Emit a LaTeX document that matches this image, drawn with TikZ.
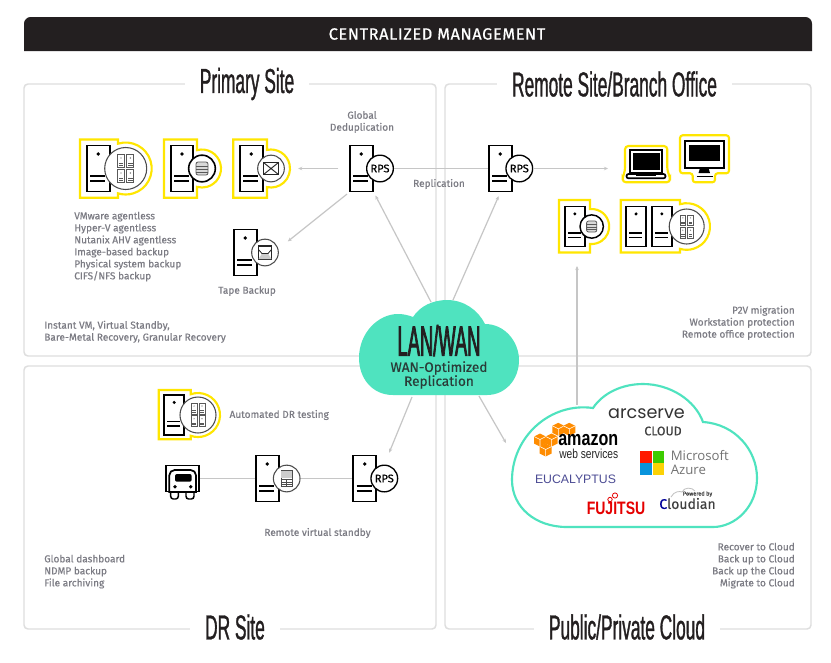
\documentclass[tikz,border=0pt]{standalone}
\usepackage{fontspec}
\setmainfont{Fira Sans}[FakeBold=0.45]
\newfontfamily\headfont{Fira Sans}[LetterSpace=4,FakeBold=0.7]
\newfontfamily\titlefont{Liberation Sans}[FakeStretch=0.5,FakeBold=0.9]
\newfontfamily\lanfont{Liberation Sans}[FakeStretch=0.43,FakeBold=1.6]
\newfontfamily\poppfont{Poppins}
\newfontfamily\azurefont{Open Sans}
\newfontfamily\logofont{Liberation Sans}
\newfontfamily\logocond{Liberation Sans}[FakeStretch=0.78]
\usetikzlibrary{positioning,arrows.meta}
\definecolor{headblack}{HTML}{231F20}
\definecolor{panelgray}{HTML}{DEDEDE}
\definecolor{connGray}{HTML}{C6C6C6}
\definecolor{textgray}{HTML}{7C7C84}
\definecolor{lanteal}{HTML}{4FE3BF}
\definecolor{frameyellow}{HTML}{FFE600}
\newcommand{\yframe}[7]{%
  \pgfmathsetmacro{\ya}{acos((#4-#5)/#7)}
  \draw[yline] (#1,#2) -- (#4,#2) -- (#4,{#6-#7*sin(\ya)})
    arc[start angle=-\ya, end angle=\ya, radius=#7] -- (#4,#3) -- (#1,#3) -- cycle;}
\begin{document}
\begin{tikzpicture}[
  x=0.75pt, y=-0.75pt,
  panel/.style = {draw=panelgray, line width=1.1pt, rounded corners=3pt},
  sitetitle/.style = {fill=white, inner sep=0pt, minimum height=24pt, inner xsep=11pt,
                      font=\titlefont\fontsize{26}{26}\selectfont, text=headblack},
  srv/.style = {draw=black, fill=white, line width=1.4pt, minimum width=17pt,
                minimum height=34.5pt, inner sep=0pt},
  srvsmall/.style = {srv, minimum width=15pt, minimum height=30pt},
  badge/.style = {circle, draw=black, fill=white, line width=1pt, inner sep=0pt,
                  minimum size=20pt, font=\fontsize{8.3}{8.3}\selectfont, text=black},
  yline/.style = {draw=frameyellow, line width=1.6pt, fill=white},
  conn/.style = {draw=connGray, line width=0.9pt},
  arr/.style = {conn, -{Stealth[length=3pt,width=2.6pt]}},
  lbl/.style = {font=\fontsize{7.55}{9}\selectfont, text=textgray, inner sep=0pt},
  lblblock/.style = {lbl, align=left, anchor=north west},
  lblright/.style = {lbl, align=right, anchor=north east},
  srvmarks/.pic = {
    \fill (0,-14.5) circle (1.9);
    \draw[line width=1.2pt] (-8,7.5) -- (7,7.5) (-8,12.5) -- (7,12.5);
  },
  vmgrid/.pic = {
    \foreach \gx/\gy in {-4.7/-7.5, 4.7/-7.5, -4.7/7.5, 4.7/7.5} {
      \draw[black!65, line width=0.7pt] (\gx-3.5,\gy-6.5) rectangle (\gx+3.5,\gy+6.5);
      \fill[black!65] (\gx,\gy-3) circle (0.7);
      \draw[black!65, line width=0.6pt] (\gx-2.2,\gy+2) -- (\gx+2.2,\gy+2) (\gx-2.2,\gy+4) -- (\gx+2.2,\gy+4);
    }
  },
  dbicon/.pic = {
    \draw[black!65, fill=black!15, line width=0.6pt, rounded corners=1.5pt] (-6,-6.5) rectangle (6,6.5);
    \draw[black!65, line width=0.6pt] (-6,-2.5) -- (6,-2.5) (-6,0.5) -- (6,0.5) (-6,3.5) -- (6,3.5);
  },
  mailicon/.pic = {
    \draw[black!85, line width=0.8pt] (-7.5,-6) rectangle (7.5,6);
    \draw[black!85, line width=0.7pt] (-7.5,-6) -- (7.5,6) (-7.5,6) -- (7.5,-6);
  },
  tapeicon/.pic = {
    \draw[black!85, line width=0.9pt] (-6.5,-6.5) rectangle (6.5,6.5);
    \fill[black!20] (-3,1) -- (3,1) -- (6.5,6.5) -- (-6.5,6.5) -- cycle;
    \draw[black!85, line width=0.6pt] (-6.5,-3) -- (-3,1) -- (3,1) -- (6.5,-3);
  },
  sqlicon/.pic = {
    \draw[black!70, line width=0.7pt] (-5.5,-8) rectangle (5.5,8);
    \fill[black!20] (-5.5,-8) rectangle (5.5,-1);
    \draw[black!70, line width=0.6pt] (-5.5,1) -- (5.5,1) (-5.5,3.5) -- (5.5,3.5) (-5.5,6) -- (5.5,6);
    \draw[black!70, line width=0.6pt] (0,1) -- (0,8);
  },
  awscube/.pic = {
    \fill[orange!90!yellow] (-6,-3.5) -- (0,-6.5) -- (6,-3.5) -- (6,3.5) -- (0,6.5) -- (-6,3.5) -- cycle;
    \draw[white, line width=0.4pt] (-6,-3.5) -- (0,-0.5) -- (6,-3.5) (0,-0.5) -- (0,6.5);
  }
]
  \useasboundingbox (0,0) rectangle (831,662);
  \fill[white] (0,0) rectangle (831,662);

  \draw[panel] (24,84) rectangle (436,356);
  \draw[panel] (445,84) rectangle (811,356);
  \draw[panel] (24,366) rectangle (436,629);
  \draw[panel] (445,366) rectangle (811,629);

  \node[sitetitle] (primary) at (247,84) {Primary Site};
  \node[sitetitle] (remote)  at (614.5,84) {Remote Site/Branch Office};
  \node[sitetitle] (drsite)  at (235,627) {DR Site};
  \node[sitetitle] (public)  at (627,627) {Public/Private Cloud};

  \fill[headblack] (24,51) {[rounded corners=5pt] -- (24,17) -- (812,17)} -- (812,51) -- cycle;
  \node[text=white, font=\headfont\fontsize{12.2}{12.2}\selectfont] (central) at (437,34) {CENTRALIZED MANAGEMENT};

  \fill[lanteal] (393,395) .. controls (372,395) and (359,378) .. (359,358)
    .. controls (359,333) and (378,314) .. (398,314)
    .. controls (403,314) and (408,315) .. (413,317)
    .. controls (420,306) and (433,300) .. (447,300)
    .. controls (464,300) and (478,310) .. (485,324)
    .. controls (505,324) and (519,342) .. (519,360)
    .. controls (519,380) and (505,395) .. (487,395) -- cycle;
  \node[font=\lanfont\fontsize{32}{32}\selectfont, text=headblack, inner sep=0pt] (lan) at (439,340.5) {LAN/WAN};
  \node[font=\fontsize{10.2}{10.5}\selectfont, text=headblack!85!lanteal, align=center, inner sep=0pt] (wanopt) at (439,375) {WAN-Optimized\\Replication};

  \draw[draw=lanteal, line width=1.6pt, fill=white] (567,527) .. controls (535,527) and (512,507) .. (512,480)
    .. controls (512,437) and (550,402) .. (593,408)
    .. controls (603,393) and (622,384) .. (643,384)
    .. controls (670,384) and (695,400) .. (703,422)
    .. controls (735,424) and (757,450) .. (757,478)
    .. controls (757,507) and (735,527) .. (713,527) -- cycle;

  \coordinate (lanA) at (431,302);
  \coordinate (lanB) at (453,300);
  \coordinate (lanC) at (412,397);
  \coordinate (lanD) at (479,396);
  \coordinate (pubin) at (506,443);
  \coordinate (pubtop) at (577,405);
  \coordinate (dbtip) at (577,266);
  \coordinate (lapin) at (608,168.5);

  \yframe{80}{139.5}{197.7}{118}{125.7}{168.5}{26}
  \yframe{164}{139.5}{197.7}{197}{202}{168.5}{19}
  \yframe{233.3}{139.5}{197.7}{267}{271}{168.5}{19}
  \yframe{559}{200}{252.5}{590}{591.7}{226.5}{17.5}
  \yframe{620.7}{200}{252.5}{680}{686.7}{226.5}{23.3}
  \yframe{158.7}{390}{439.3}{190.7}{198}{415}{22}

  \node[srv] (vmsrv) at (98.3,168.5) {};
  \pic at (vmsrv) {srvmarks};
  \node[badge, draw=black!70, line width=0.8pt, minimum size=31.5pt] (vmbadge) at (125.7,168.5) {};
  \pic at (vmbadge) {vmgrid};

  \node[srv] (dbsrv) at (182,168.5) {};
  \pic at (dbsrv) {srvmarks};
  \node[badge, line width=1.2pt] (dbbadge) at (202,168.5) {};
  \pic at (dbbadge) {dbicon};

  \node[srv] (mailsrv) at (251.3,168.5) {};
  \pic at (mailsrv) {srvmarks};
  \node[badge, draw=black!70, line width=0.8pt] (mailbadge) at (271,168.5) {};
  \pic at (mailbadge) {mailicon};

  \node[srv] (rpsA) at (361.3,168.5) {};
  \pic at (rpsA) {srvmarks};
  \node[badge] (rpsAb) at (380,168.5) {RPS};

  \node[srv] (tapesrv) at (245.3,252.5) {};
  \pic at (tapesrv) {srvmarks};
  \node[badge, draw=black!70, line width=0.8pt] (tapebadge) at (265,252.5) {};
  \pic at (tapebadge) {tapeicon};

  \node[srv] (rpsB) at (500.3,168.5) {};
  \pic at (rpsB) {srvmarks};
  \node[badge] (rpsBb) at (519.3,168.5) {RPS};

  \node[srvsmall] (remdb) at (574.8,226.5) {};
  \pic[scale=0.87] at (remdb) {srvmarks};
  \node[badge, line width=1.1pt, minimum size=17.5pt] (remdbb) at (591.7,226.5) {};
  \pic[scale=0.85] at (remdbb) {dbicon};

  \node[srvsmall] (remvmA) at (636,226.5) {};
  \pic[scale=0.87] at (remvmA) {srvmarks};
  \node[srvsmall] (remvmB) at (661.8,226.5) {};
  \pic[scale=0.87] at (remvmB) {srvmarks};
  \node[badge, draw=black!70, line width=0.8pt, minimum size=26.25pt] (remvmb) at (686.7,226.5) {};
  \pic[scale=0.82] at (remvmb) {vmgrid};

  \node[srvsmall] (drvm) at (174.2,415) {};
  \pic[scale=0.87] at (drvm) {srvmarks};
  \node[badge, draw=black!70, line width=0.8pt, minimum size=27pt] (drvmb) at (198,415) {};
  \pic[scale=0.85] at (drvmb) {vmgrid};

  \node[srv] (drsrv) at (267.3,478.5) {};
  \pic at (drsrv) {srvmarks};
  \node[badge, draw=black!70, line width=0.8pt] (drsrvb) at (286.7,478.5) {};
  \pic at (drsrvb) {sqlicon};

  \node[srv] (rpsC) at (364.7,478.5) {};
  \pic at (rpsC) {srvmarks};
  \node[badge] (rpsCb) at (384.3,478.5) {RPS};

  \node[draw=black, line width=1.3pt, minimum width=25pt, minimum height=19.5pt, inner sep=0pt] (truck) at (182.5,478.5) {};
  \draw[line width=1.1pt, fill=white, rounded corners=2pt] (170.7,491) -- (170.7,499) -- (178.3,499) -- (178.3,491);
  \draw[line width=1.1pt, fill=white, rounded corners=2pt] (186,491) -- (186,499) -- (194,499) -- (194,491);
  \draw[line width=1.3pt, fill=white] (169.3,492) {[rounded corners=4pt] -- (169.3,470) -- (196,470)} -- (196,492) -- cycle;
  \fill[rounded corners=1.5pt] (175,474) rectangle (191.7,481.7);
  \fill (175,486.7) circle (1.9) (190.7,486.7) circle (1.9);

  \draw[conn] (truck) -- (drsrv);
  \draw[conn] (drsrvb) -- (rpsC);
  \draw[conn] (rpsAb) -- (rpsB);
  \draw[arr, shorten <=8pt, shorten >=10pt] (rpsA) -- (mailbadge);
  \draw[arr, shorten <=2pt, shorten >=9pt] (rpsA.south west) -- (tapebadge.15);
  \draw[arr] (rpsBb) -- (lapin);
  \draw[arr, shorten >=3pt] (lanA) -- (rpsA);
  \draw[arr, shorten >=3pt] (lanB) -- (rpsB.south);
  \draw[arr, shorten >=9.7pt] (lanC) -- (rpsCb.north);
  \draw[arr] (lanD) -- (pubin);
  \draw[arr] (pubtop) -- (dbtip);

  \draw[yline, rounded corners=2.5pt] (625,146) -- (667.3,146) -- (667.3,171) -- (670,177) -- (670,182.3) -- (622.7,182.3) -- (622.7,177) -- (625,171) -- cycle;
  \node[draw=black, fill=white, line width=1.3pt, minimum width=24.5pt, minimum height=17pt, inner sep=0pt] (laptop) at (646,161.3) {};
  \fill (633,153) rectangle (659.5,169.5);
  \draw[line width=1.3pt, fill=white, rounded corners=1.5pt] (626.5,174) rectangle (665.5,178.3);
  \fill (636,173.5) rectangle (656,176);

  \draw[yline, rounded corners=2pt] (680,135.3) -- (729,135.3) -- (729,173.3) -- (715,173.3) -- (715,182.3) -- (692.7,182.3) -- (692.7,173.3) -- (680,173.3) -- cycle;
  \node[draw=black, fill=white, line width=1.3pt, minimum width=29pt, minimum height=20.7pt, inner sep=0pt] (monitor) at (704.5,154.5) {};
  \fill (689,145) rectangle (720,160.7);
  \fill (700,168) -- (708.5,168) -- (710,173) -- (698.5,173) -- cycle;
  \draw[line width=1.3pt] (696.5,176.5) -- (712.5,176.5);

  \node[lbl, align=center] (dedup) at (362,122) {Global\\Deduplication};
  \node[lblblock] (vmlist) at (74,211.5) {VMware agentless\\Hyper-V agentless\\Nutanix AHV agentless\\Image-based backup\\Physical system backup\\CIFS/NFS backup};
  \node[lbl] (tapelbl) at (247,291) {Tape Backup};
  \node[lbl] (repl) at (439,184) {Replication};
  \node[lblblock] (instant) at (44,320.5) {Instant VM, Virtual Standby,\\Bare-Metal Recovery, Granular Recovery};
  \node[lblright] (p2v) at (795,305.5) {P2V migration\\Workstation protection\\Remote office protection};
  \node[lbl, anchor=west] (drtest) at (229.3,415) {Automated DR testing};
  \node[lbl] (standby) at (317.5,533) {Remote virtual standby};
  \node[lblblock] (dash) at (44,554.5) {Global dashboard\\NDMP backup\\File archiving};
  \node[lblright] (recover) at (795,542.5) {Recover to Cloud\\Back up to Cloud\\Back up the Cloud\\Migrate to Cloud};

  \foreach \cx/\cy in {558.3/429.3, 569.3/429.3, 540/440, 551.7/440, 545.7/450} {
    \pic at (\cx,\cy) {awscube};
  }
  \node[font=\poppfont\fontsize{13.2}{13.2}\selectfont, text=black!80, inner sep=0pt] (arcserve) at (646.5,414) {arcserve};
  \node[font=\fontsize{9.3}{9.3}\selectfont, text=black!75, inner sep=0pt] (arccloud) at (663,431) {CLOUD};
  \node[font=\logocond\bfseries\fontsize{15.5}{15.5}\selectfont, text=black, inner sep=0pt, anchor=west] (amazon) at (558,440.5) {amazon};
  \node[font=\logocond\fontsize{9.8}{9.8}\selectfont, text=black!85, inner sep=0pt, anchor=west] (aws) at (559,454) {web services};
  \fill[red!80!orange] (640,450.7) rectangle (652,462.7);
  \fill[green!70!yellow!80!black] (652.7,450.7) rectangle (664.3,462.7);
  \fill[cyan!80!blue] (640,463.3) rectangle (652,475);
  \fill[yellow!70!orange] (652.7,463.3) rectangle (664.3,475);
  \node[font=\azurefont\fontsize{9.9}{10.5}\selectfont, text=black!55, align=left, inner sep=0pt, anchor=west] (azure) at (670.5,463) {Microsoft\\Azure};
  \node[font=\logofont\fontsize{9.2}{9.2}\selectfont, text=blue!40!black!70, inner sep=0pt] (eucalyptus) at (575.5,479) {EUCALYPTUS};
  \node[font=\logocond\bfseries\fontsize{13.5}{13.5}\selectfont, text=red!90!black, inner sep=0pt] (fujitsu) at (616,508.5) {FUJITSU};
  \draw[red!90!black, line width=0.6pt] (610,499.5) circle (2.2) (615,495.5) circle (2.6);
  \draw[black!25, line width=0.6pt] (671,497) .. controls (674,491) and (680,491) .. (682,492) .. controls (684,487) and (692,487) .. (695,491);
  \node[font=\fontsize{10.5}{10.5}\selectfont, inner sep=0pt] (cloudian) at (687.5,503.5) {\textcolor{blue!60!black}{C}\textcolor{black!75}{loudian}};
  \node[font=\fontsize{4.2}{4.2}\selectfont, text=black!75, inner sep=0pt] (powered) at (697.5,494) {Powered by};
\end{tikzpicture}
\end{document}
